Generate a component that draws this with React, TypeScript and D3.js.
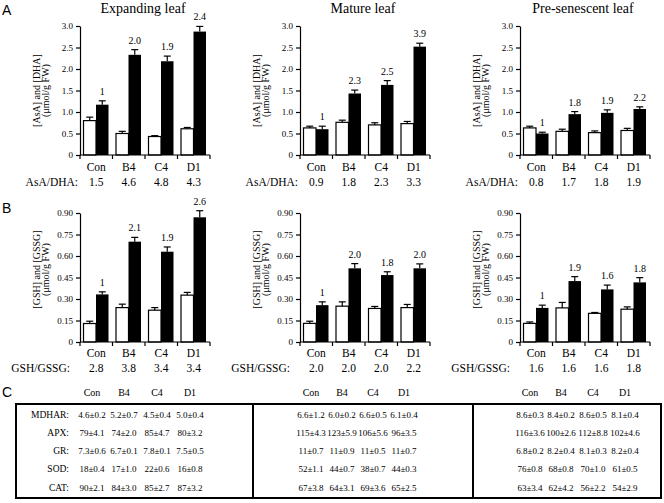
import React, { useEffect, useRef } from 'react';
import * as d3 from 'd3';

const CATEGORIES = ["Con", "B4", "C4", "D1"];
const STAGES = ["Expanding leaf", "Mature leaf", "Pre-senescent leaf"];

// panel A: black bars = AsA, white bars = DHA (umol/g FW)
const ASA = [[1.17, 2.33, 2.18, 2.87], [0.60, 1.43, 1.63, 2.52], [0.50, 0.95, 0.98, 1.07]];
const ASA_ERR = [[0.09, 0.12, 0.12, 0.12], [0.07, 0.08, 0.10, 0.08], [0.03, 0.06, 0.07, 0.05]];
const DHA = [[0.80, 0.50, 0.43, 0.61], [0.63, 0.76, 0.70, 0.73], [0.63, 0.55, 0.52, 0.57]];
const DHA_ERR = [[0.08, 0.05, 0.02, 0.03], [0.04, 0.05, 0.05, 0.05], [0.04, 0.05, 0.04, 0.05]];
const FOLD_A = [["1", "2.0", "1.9", "2.4"], ["1", "2.3", "2.5", "3.9"], ["1", "1.8", "1.9", "2.2"]];
const RATIO_A = [["1.5", "4.6", "4.8", "4.3"], ["0.9", "1.8", "2.3", "3.3"], ["0.8", "1.7", "1.8", "1.9"]];

// panel B: black bars = GSH, white bars = GSSG
const GSH = [[0.332, 0.70, 0.63, 0.87], [0.257, 0.514, 0.467, 0.514], [0.238, 0.425, 0.367, 0.416]];
const GSH_ERR = [[0.018, 0.03, 0.033, 0.046], [0.023, 0.033, 0.023, 0.031], [0.019, 0.031, 0.03, 0.033]];
const GSSG = [[0.129, 0.24, 0.222, 0.327], [0.13, 0.25, 0.234, 0.24], [0.13, 0.238, 0.2, 0.229]];
const GSSG_ERR = [[0.016, 0.024, 0.018, 0.019], [0.015, 0.03, 0.014, 0.022], [0.01, 0.038, 0.006, 0.016]];
const FOLD_B = [["1", "2.1", "1.9", "2.6"], ["1", "2.0", "1.8", "2.0"], ["1", "1.9", "1.6", "1.8"]];
const RATIO_B = [["2.8", "3.8", "3.4", "3.4"], ["2.0", "2.0", "2.0", "2.2"], ["1.6", "1.6", "1.6", "1.8"]];

// panel C: enzyme activities
const ENZYMES = ["MDHAR:", "APX:", "GR:", "SOD:", "CAT:"];
const TABLE_EXPANDING = [
    ["4.6±0.2", "5.2±0.7", "4.5±0.4", "5.0±0.4"],
    ["79±4.1", "74±2.0", "85±4.7", "80±3.2"],
    ["7.3±0.6", "6.7±0.1", "7.8±0.1", "7.5±0.5"],
    ["18±0.4", "17±1.0", "22±0.6", "16±0.8"],
    ["90±2.1", "84±3.0", "85±2.7", "87±3.2"]
];
const TABLE_MATURE = [
    ["6.6±1.2", "6.0±0.2", "6.6±0.5", "6.1±0.4"],
    ["115±4.3", "123±5.9", "106±5.6", "96±3.5"],
    ["11±0.7", "11±0.9", "11±0.5", "11±0.7"],
    ["52±1.1", "44±0.7", "38±0.7", "44±0.3"],
    ["67±3.8", "64±3.1", "69±3.6", "65±2.5"]
];
const TABLE_PRE = [
    ["8.6±0.3", "8.4±0.2", "8.6±0.5", "8.1±0.4"],
    ["116±3.6", "100±2.6", "112±8.8", "102±4.6"],
    ["6.8±0.2", "8.2±0.4", "8.1±0.3", "8.2±0.4"],
    ["76±0.8", "68±0.8", "70±1.0", "61±0.5"],
    ["63±3.4", "62±4.2", "56±2.2", "54±2.9"]
];

const SERIF = "Liberation Serif";
const SANS = "Liberation Sans";

function App() {
    const svgRef = useRef(null);

    useEffect(() => {
        const svg = d3.select(svgRef.current);
        svg.selectAll("*").remove();

        const axisX = [80, 300, 520];
        const chartW = 130;

        const panels = [
            {
                top: 26, bottom: 155, max: 3.0, step: 0.5, fmt: ".1f",
                black: ASA, blackErr: ASA_ERR, white: DHA, whiteErr: DHA_ERR,
                fold: FOLD_A, ratio: RATIO_A, ratioLabel: "AsA/DHA:", ratioOff: 2,
                yLabel: "[AsA] and [DHA]", catY: 171, ratioY: 186
            },
            {
                top: 213, bottom: 342, max: 0.9, step: 0.15, fmt: ".2f",
                black: GSH, blackErr: GSH_ERR, white: GSSG, whiteErr: GSSG_ERR,
                fold: FOLD_B, ratio: RATIO_B, ratioLabel: "GSH/GSSG:", ratioOff: 10,
                yLabel: "[GSH] and [GSSG]", catY: 357, ratioY: 372
            }
        ];

        panels.forEach((p, pi) => {
            STAGES.forEach((stage, si) => {
                const x0 = axisX[si];
                const x = d3.scaleBand().domain(CATEGORIES).range([x0, x0 + chartW]);
                const y = d3.scaleLinear().domain([0, p.max]).range([p.bottom, p.top]);
                const bw = 12.5;
                const g = svg.append("g");

                if (pi === 0) {
                    g.append("text")
                        .attr("x", x0 + chartW / 2 - 2)
                        .attr("y", 13)
                        .attr("text-anchor", "middle")
                        .attr("font-family", SERIF)
                        .attr("font-size", 14)
                        .text(stage);
                }

                // white bars
                g.selectAll(".w")
                    .data(CATEGORIES)
                    .enter()
                    .append("rect")
                    .attr("x", d => x(d) + 3.5)
                    .attr("y", (d, i) => y(p.white[si][i]))
                    .attr("width", bw)
                    .attr("height", (d, i) => p.bottom - y(p.white[si][i]))
                    .attr("fill", "white")
                    .attr("stroke", "black")
                    .attr("stroke-width", 1.2);

                // black bars
                g.selectAll(".b")
                    .data(CATEGORIES)
                    .enter()
                    .append("rect")
                    .attr("x", d => x(d) + 3.5 + bw)
                    .attr("y", (d, i) => y(p.black[si][i]))
                    .attr("width", bw)
                    .attr("height", (d, i) => p.bottom - y(p.black[si][i]))
                    .attr("fill", "black");

                // error bars (upper only)
                const errs = [
                    { vals: p.white[si], errs: p.whiteErr[si], off: 3.5 + bw / 2 },
                    { vals: p.black[si], errs: p.blackErr[si], off: 3.5 + bw * 1.5 }
                ];
                errs.forEach(s => {
                    CATEGORIES.forEach((c, i) => {
                        const cx = x(c) + s.off;
                        const yt = y(s.vals[i] + s.errs[i]);
                        g.append("line")
                            .attr("x1", cx).attr("x2", cx)
                            .attr("y1", y(s.vals[i])).attr("y2", yt)
                            .attr("stroke", "black").attr("stroke-width", 1.2);
                        g.append("line")
                            .attr("x1", cx - 3.5).attr("x2", cx + 3.5)
                            .attr("y1", yt).attr("y2", yt)
                            .attr("stroke", "black").attr("stroke-width", 1.2);
                    });
                });

                // fold change labels above black bars
                g.selectAll(".fold")
                    .data(CATEGORIES)
                    .enter()
                    .append("text")
                    .attr("x", d => x(d) + 3.5 + bw * 1.5)
                    .attr("y", (d, i) => y(p.black[si][i] + p.blackErr[si][i]) - 6)
                    .attr("text-anchor", "middle")
                    .attr("font-family", SERIF)
                    .attr("font-size", 10)
                    .text((d, i) => p.fold[si][i]);

                // y axis
                const yAxis = d3.axisLeft(y)
                    .tickValues(d3.range(7).map(i => i * p.step))
                    .tickFormat(d => (d === 0 ? "0" : d3.format(p.fmt)(d)))
                    .tickSize(4)
                    .tickSizeOuter(0)
                    .tickPadding(3);
                const ya = g.append("g")
                    .attr("transform", `translate(${x0}, 0)`)
                    .call(yAxis)
                    .attr("font-family", SERIF)
                    .attr("font-size", 9);
                ya.selectAll("line, path").attr("stroke-width", 1.2);

                // x axis with separator ticks
                g.append("line")
                    .attr("x1", x0).attr("x2", x0 + chartW)
                    .attr("y1", p.bottom).attr("y2", p.bottom)
                    .attr("stroke", "black").attr("stroke-width", 1.2);
                const edges = CATEGORIES.map(c => x(c)).concat([x0 + chartW]);
                g.selectAll(".sep")
                    .data(edges)
                    .enter()
                    .append("line")
                    .attr("x1", d => d).attr("x2", d => d)
                    .attr("y1", p.bottom).attr("y2", p.bottom + 4)
                    .attr("stroke", "black").attr("stroke-width", 1.2);

                // category labels
                g.selectAll(".cat")
                    .data(CATEGORIES)
                    .enter()
                    .append("text")
                    .attr("x", d => x(d) + x.bandwidth() / 2)
                    .attr("y", p.catY)
                    .attr("text-anchor", "middle")
                    .attr("font-family", SERIF)
                    .attr("font-size", 11.5)
                    .text(d => d);

                // ratio row
                g.append("text")
                    .attr("x", x0 - p.ratioOff)
                    .attr("y", p.ratioY)
                    .attr("text-anchor", "end")
                    .attr("font-family", SERIF)
                    .attr("font-size", 11.5)
                    .text(p.ratioLabel);
                g.selectAll(".ratio")
                    .data(CATEGORIES)
                    .enter()
                    .append("text")
                    .attr("x", d => x(d) + x.bandwidth() / 2)
                    .attr("y", p.ratioY)
                    .attr("text-anchor", "middle")
                    .attr("font-family", SERIF)
                    .attr("font-size", 11.5)
                    .text((d, i) => p.ratio[si][i]);

                // y axis title
                const ymid = (p.top + p.bottom) / 2 - (pi === 1 ? 8 : 0);
                const yl = g.append("text")
                    .attr("transform", `translate(${x0 - 40}, ${ymid}) rotate(-90)`)
                    .attr("text-anchor", "middle")
                    .attr("font-family", SERIF)
                    .attr("font-size", 10);
                yl.append("tspan").attr("x", 0).attr("dy", 0).text(p.yLabel);
                yl.append("tspan").attr("x", 0).attr("dy", 9).text("(μmol/g FW)");
            });
        });

        // panel letters
        [["A", 15], ["B", 213], ["C", 397]].forEach(([t, yy]) => {
            svg.append("text")
                .attr("x", 2)
                .attr("y", yy)
                .attr("font-family", SANS)
                .attr("font-size", 14)
                .text(t);
        });

        // table C
        const tables = [TABLE_EXPANDING, TABLE_MATURE, TABLE_PRE];
        const colCenters = [[92, 124, 157, 190], [311, 342, 373, 404], [530, 561, 593, 625]];
        const rowY = d3.scalePoint().domain(ENZYMES).range([417.5, 490.5]);

        svg.append("rect")
            .attr("x", 16).attr("y", 404)
            .attr("width", 645).attr("height", 94)
            .attr("fill", "none").attr("stroke", "black").attr("stroke-width", 2);
        [253, 473].forEach(xx => {
            svg.append("line")
                .attr("x1", xx).attr("x2", xx)
                .attr("y1", 404).attr("y2", 498)
                .attr("stroke", "black").attr("stroke-width", 2);
        });

        tables.forEach((tbl, ti) => {
            const cols = colCenters[ti];
            CATEGORIES.forEach((c, ci) => {
                svg.append("text")
                    .attr("x", cols[ci])
                    .attr("y", 396)
                    .attr("text-anchor", "middle")
                    .attr("font-family", SERIF)
                    .attr("font-size", 10)
                    .text(c);
            });
            ENZYMES.forEach((e, ri) => {
                tbl[ri].forEach((v, ci) => {
                    svg.append("text")
                        .attr("x", cols[ci])
                        .attr("y", rowY(e))
                        .attr("text-anchor", "middle")
                        .attr("font-family", SERIF)
                        .attr("font-size", 9)
                        .text(v);
                });
            });
        });

        svg.selectAll(".enz")
            .data(ENZYMES)
            .enter()
            .append("text")
            .attr("x", 69)
            .attr("y", d => rowY(d))
            .attr("text-anchor", "end")
            .attr("font-family", SERIF)
            .attr("font-size", 9.5)
            .text(d => d);
    }, []);

    return (
        <svg
            ref={svgRef}
            width={664}
            height={503}
            fontFamily={SERIF}
            style={{ position: "absolute", left: 0, top: 0, background: "white" }}
        />
    );
}

export default App
